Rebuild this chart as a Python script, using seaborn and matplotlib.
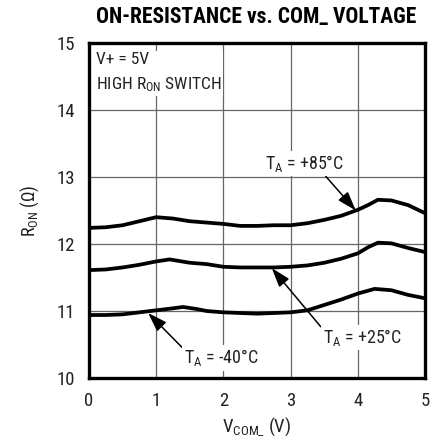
import matplotlib
matplotlib.use("Agg")
import matplotlib.pyplot as plt
from matplotlib import font_manager
import seaborn as sns
import pandas as pd

# Data: on-resistance vs. COM_ voltage at three temperatures
v_85 = [0, 0.25, 0.5, 0.75, 1.0, 1.25, 1.5, 1.75, 2.0, 2.25, 2.5, 2.75, 3.0, 3.25, 3.5, 3.75, 4.0, 4.15, 4.3, 4.5, 4.75, 5.0]
r_85 = [12.24, 12.25, 12.28, 12.34, 12.40, 12.38, 12.34, 12.32, 12.30, 12.27, 12.27, 12.28, 12.28, 12.31, 12.36, 12.42, 12.51, 12.58, 12.66, 12.65, 12.58, 12.46]
v_25 = [0, 0.25, 0.5, 0.75, 1.0, 1.2, 1.5, 1.75, 2.0, 2.25, 2.5, 2.75, 3.0, 3.25, 3.5, 3.75, 4.0, 4.15, 4.3, 4.5, 4.75, 5.0]
r_25 = [11.61, 11.62, 11.65, 11.69, 11.74, 11.77, 11.72, 11.70, 11.66, 11.65, 11.65, 11.65, 11.66, 11.68, 11.72, 11.78, 11.86, 11.95, 12.02, 12.01, 11.94, 11.88]
v_m40 = [0, 0.25, 0.5, 0.75, 1.0, 1.25, 1.4, 1.6, 1.75, 2.0, 2.25, 2.5, 2.75, 3.0, 3.25, 3.5, 3.75, 4.0, 4.25, 4.5, 4.75, 5.0]
r_m40 = [10.94, 10.94, 10.95, 10.98, 11.01, 11.04, 11.06, 11.03, 11.00, 10.98, 10.97, 10.96, 10.97, 10.98, 11.01, 11.09, 11.17, 11.26, 11.33, 11.31, 11.24, 11.19]
temps = ["+85°C", "+25°C", "-40°C"]
x_ticks = [0, 1, 2, 3, 4, 5]
y_ticks = [10, 11, 12, 13, 14, 15]

df = pd.concat([
    pd.DataFrame({"v": v_85, "r": r_85, "temp": temps[0]}),
    pd.DataFrame({"v": v_25, "r": r_25, "temp": temps[1]}),
    pd.DataFrame({"v": v_m40, "r": r_m40, "temp": temps[2]}),
])

sns.set_theme(style="white")
names = {f.name for f in font_manager.fontManager.ttflist}
narrow = next((n for n in ["Roboto Condensed", "Archivo Narrow", "PT Sans Narrow"] if n in names), "DejaVu Sans")
plt.rcParams["font.family"] = [narrow, "DejaVu Sans"]
plt.rcParams["mathtext.fontset"] = "custom"
plt.rcParams["mathtext.rm"] = narrow
plt.rcParams["mathtext.it"] = narrow
plt.rcParams["mathtext.bf"] = narrow + ":bold"

fig = plt.figure(figsize=(4.38, 4.45), dpi=100)
ax = fig.add_axes([89 / 438, 1 - 378 / 445, (425 - 89) / 438, (378 - 43) / 445])

sns.lineplot(data=df, x="v", y="r", hue="temp", palette=["black"] * 3,
             linewidth=2.7, legend=False, ax=ax, sort=False)

ax.set_xlim(0, 5)
ax.set_ylim(10, 15)
ax.set_xticks(x_ticks)
ax.set_yticks(y_ticks)
ax.set_xticklabels([str(t) for t in x_ticks], fontsize=13.5)
ax.set_yticklabels([str(t) for t in y_ticks], fontsize=13.5)
ax.tick_params(length=0, pad=10, colors="#222222")
ax.grid(True, color="#666666", linewidth=0.9)
for s in ax.spines.values():
    s.set_linewidth(2.4)
    s.set_color("black")

ax.set_xlabel(r"V$\mathregular{_{COM\_}}$ (V)", fontsize=13.5, color="#222222", labelpad=4)
ax.set_ylabel(r"R$\mathregular{_{ON}}$ ($\Omega$)", fontsize=13, color="#222222", labelpad=11)

fig.text(256 / 438, 1 - 17 / 445, "ON-RESISTANCE vs. COM_ VOLTAGE", ha="center", va="center",
         fontsize=15.5, fontweight=900, color="black")

box = dict(facecolor="white", edgecolor="none", pad=1.5)
ax.text(0.1, 14.87, "V+ = 5V\nHIGH R$\\mathregular{_{ON}}$ SWITCH", fontsize=12.5, va="top", ha="left",
        linespacing=1.6, bbox=box, color="#222222", zorder=5)

arrow = dict(arrowstyle="-|>,head_length=0.9,head_width=0.3", color="black", lw=1.1, shrinkA=0, shrinkB=0)
ax.annotate("T$\\mathregular{_A}$ = +85°C", xy=(3.97, 12.50), xytext=(3.2, 13.2),
            fontsize=13, ha="center", va="center", bbox=box, color="#222222",
            arrowprops=dict(arrow, relpos=(0.75, 0.0)), zorder=5)
ax.annotate("T$\\mathregular{_A}$ = +25°C", xy=(2.72, 11.64), xytext=(4.07, 10.6),
            fontsize=13, ha="center", va="center", bbox=box, color="#222222",
            arrowprops=dict(arrow, relpos=(0.0, 0.9)), zorder=5)
ax.annotate("T$\\mathregular{_A}$ = -40°C", xy=(0.88, 10.97), xytext=(1.97, 10.3),
            fontsize=13, ha="center", va="center", bbox=box, color="#222222",
            arrowprops=dict(arrow, relpos=(0.0, 0.9)), zorder=5)

fig.savefig("out.png", dpi=100)
